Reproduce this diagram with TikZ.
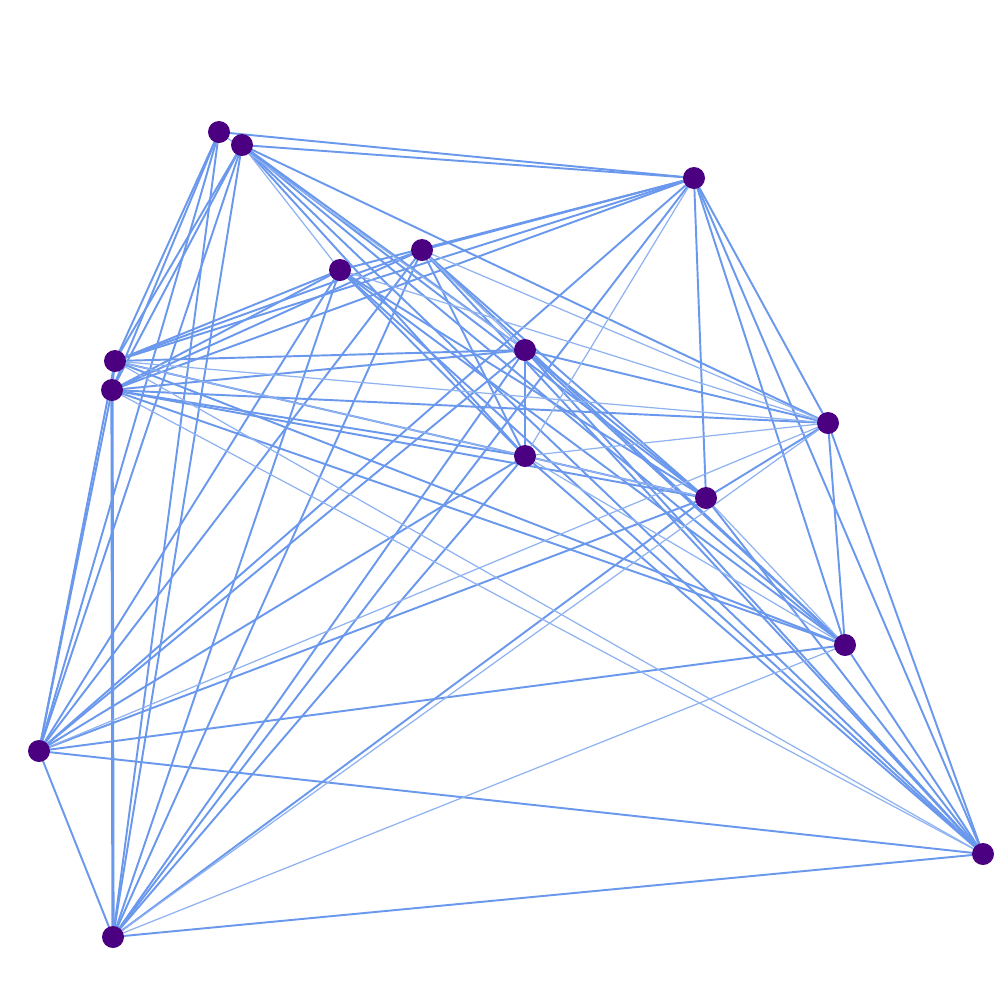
\documentclass[tikz,border=0pt]{standalone}
\usetikzlibrary{calc}
\definecolor{linkblue}{HTML}{6A98EC}
\definecolor{vertexviolet}{HTML}{4B0082}
\tikzset{
  vertex/.style={circle,fill=vertexviolet,inner sep=0pt,minimum size=2.2mm},
  link/.style={draw=linkblue,line width=.55pt},
  faintlink/.style={draw=linkblue!75,line width=.35pt}}

\begin{document}
\begin{tikzpicture}[x=.1mm,y=-.1mm]
\useasboundingbox (0,0) rectangle (1000,1000);
% vertices, placed at pixel positions of the reference
\foreach \name/\xx/\yy in {a/219/132,b/242/145,c/694/178,d/422/250,e/340/270,
  f/525/350,g/115/361,h/112/390,i/828/423,j/525/456,k/706/498,l/845/645,
  m/39/751,n/983/854,o/113/937}{
  \coordinate (\name) at (\xx,\yy);}
% main links
\foreach \u/\v in {a/c,a/g,a/h,a/m,a/o,b/c,b/g,b/h,b/m,b/o,b/f,b/j,b/k,b/l,b/n,b/i,
  c/e,c/d,c/g,c/h,c/m,c/o,c/k,c/i,c/n,c/l,
  d/g,d/h,d/m,d/o,d/j,d/k,d/l,d/n,
  e/g,e/h,e/m,e/o,e/k,e/l,e/n,e/j,
  f/j,f/g,f/h,f/m,f/o,f/i,f/k,f/l,f/n,
  g/h,g/j,g/l,g/m,
  h/m,h/j,h/k,h/l,h/i,
  i/k,i/l,i/n,
  j/k,j/m,j/o,j/n,
  k/m,k/o,k/n,
  l/m,l/n,m/o,m/n,o/n}{
  \draw[link] (\u)--(\v);}
\draw[link,line width=.9pt] (h)--(o);
% fainter links
\foreach \u/\v in {a/f,b/e,d/i,e/i,g/i,g/k,g/n,h/n,i/j,i/m,i/o,j/l,k/l,l/o,d/f,c/j}{
  \draw[faintlink] (\u)--(\v);}
\foreach \name in {a,b,c,d,e,f,g,h,i,j,k,l,m,n,o}{
  \node[vertex] (v\name) at (\name) {};}
\end{tikzpicture}
\end{document}
